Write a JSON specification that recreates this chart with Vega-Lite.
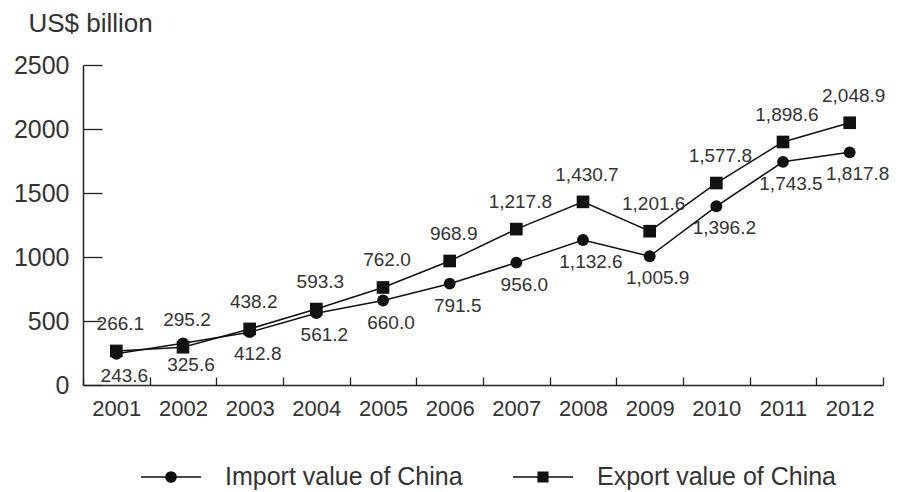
{
  "$schema": "https://vega.github.io/schema/vega-lite/v6.json",
  "width": 800,
  "height": 320,
  "autosize": "none",
  "padding": {"left": 83, "top": 65, "right": 21, "bottom": 107},
  "background": "white",
  "config": {
    "font": "Liberation Sans",
    "view": {"stroke": null},
    "axis": {"grid": false, "domainColor": "#222", "tickColor": "#222", "domainWidth": 1.5, "tickWidth": 1.3, "labelColor": "#333", "titleColor": "#333", "labelFont": "Liberation Sans", "titleFont": "Liberation Sans"},
    "legend": {"title": null, "orient": "none", "padding": 0, "symbolSize": 3600, "labelOffset": 23, "labelFontSize": 25, "labelColor": "#333", "labelLimit": 400, "symbolStrokeColor": "#111", "symbolFillColor": "#111", "symbolStrokeWidth": 1.5, "symbolOpacity": 1}
  },
  "data": {
    "values": [
      {"year": "2001", "series": "Import value of China", "value": 243.6},
      {"year": "2002", "series": "Import value of China", "value": 325.6},
      {"year": "2003", "series": "Import value of China", "value": 412.8},
      {"year": "2004", "series": "Import value of China", "value": 561.2},
      {"year": "2005", "series": "Import value of China", "value": 660.0},
      {"year": "2006", "series": "Import value of China", "value": 791.5},
      {"year": "2007", "series": "Import value of China", "value": 956.0},
      {"year": "2008", "series": "Import value of China", "value": 1132.6},
      {"year": "2009", "series": "Import value of China", "value": 1005.9},
      {"year": "2010", "series": "Import value of China", "value": 1396.2},
      {"year": "2011", "series": "Import value of China", "value": 1743.5},
      {"year": "2012", "series": "Import value of China", "value": 1817.8},
      {"year": "2001", "series": "Export value of China", "value": 266.1},
      {"year": "2002", "series": "Export value of China", "value": 295.2},
      {"year": "2003", "series": "Export value of China", "value": 438.2},
      {"year": "2004", "series": "Export value of China", "value": 593.3},
      {"year": "2005", "series": "Export value of China", "value": 762.0},
      {"year": "2006", "series": "Export value of China", "value": 968.9},
      {"year": "2007", "series": "Export value of China", "value": 1217.8},
      {"year": "2008", "series": "Export value of China", "value": 1430.7},
      {"year": "2009", "series": "Export value of China", "value": 1201.6},
      {"year": "2010", "series": "Export value of China", "value": 1577.8},
      {"year": "2011", "series": "Export value of China", "value": 1898.6},
      {"year": "2012", "series": "Export value of China", "value": 2048.9}
    ]
  },
  "encoding": {
    "x": {
      "field": "year", "type": "ordinal",
      "scale": {"type": "band", "paddingInner": 0, "paddingOuter": 0},
      "axis": {"title": null, "labelAngle": 0, "labelFontSize": 22, "tickBand": "extent", "tickSize": -8, "labelPadding": 21}
    },
    "y": {
      "field": "value", "type": "quantitative",
      "scale": {"domain": [0, 2500], "nice": false},
      "axis": {"values": [0, 500, 1000, 1500, 2000, 2500], "format": "d", "tickSize": -19, "labelPadding": 33, "labelFontSize": 25, "title": "US$ billion", "titleAngle": 0, "titleX": -55, "titleY": -34, "titleAlign": "left", "titleBaseline": "alphabetic", "titleFontSize": 26, "titleFontWeight": "normal"}
    }
  },
  "layer": [
    {
      "mark": {"type": "line", "color": "#111", "strokeWidth": 1.5},
      "encoding": {"detail": {"field": "series"}}
    },
    {
      "transform": [{"filter": "datum.series === 'Import value of China'"}],
      "mark": {"type": "point", "filled": true, "size": 140, "shape": "circle", "opacity": 1},
      "encoding": {
        "color": {
          "field": "series", "type": "nominal",
          "scale": {"domain": ["Import value of China"], "range": ["#111"]},
          "legend": {"legendX": 57, "legendY": 381, "symbolType": "M-1,0L1,0M-0.17,0A0.17,0.17,0,1,0,0.17,0A0.17,0.17,0,1,0,-0.17,0Z"}
        }
      }
    },
    {
      "transform": [{"filter": "datum.series === 'Export value of China'"}],
      "mark": {"type": "point", "filled": true, "size": 160, "shape": "square", "opacity": 1},
      "encoding": {
        "color": {
          "field": "series", "type": "nominal",
          "scale": {"domain": ["Export value of China"], "range": ["#111"]},
          "legend": {"legendX": 429, "legendY": 381, "symbolType": "M-1,0L1,0M-0.16,-0.16L0.16,-0.16L0.16,0.16L-0.16,0.16Z"}
        }
      }
    },
    {
      "transform": [{"filter": "datum.series === 'Export value of China'"}],
      "mark": {"type": "text", "dx": 4, "dy": -27, "fontSize": 19, "color": "#333"},
      "encoding": {"text": {"field": "value", "type": "quantitative", "format": ",.1f"}}
    },
    {
      "transform": [{"filter": "datum.series === 'Import value of China'"}],
      "mark": {"type": "text", "dx": 8, "dy": 22, "fontSize": 19, "color": "#333"},
      "encoding": {"text": {"field": "value", "type": "quantitative", "format": ",.1f"}}
    }
  ],
  "resolve": {"scale": {"color": "independent"}, "legend": {"color": "independent"}}
}
